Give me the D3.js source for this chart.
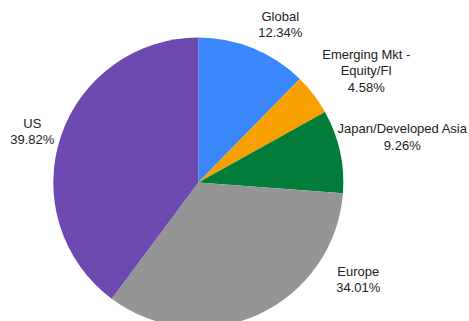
<!DOCTYPE html>
<html>
<head>
<meta charset="utf-8">
<script src="https://cdn.jsdelivr.net/npm/d3@7"></script>
<style>
  html, body { margin: 0; padding: 0; background: #fff; overflow: hidden; }
  svg { display: block; }
  text { font-family: "Liberation Sans", Arial, sans-serif; font-size: 13px; fill: #222; }
</style>
</head>
<body>
<script>
// Allocation by region (percent of portfolio)
const categories = ["Global", "Emerging Mkt -\nEquity/FI", "Japan/Developed Asia", "Europe", "US"];
const values = [12.34, 4.58, 9.26, 34.01, 39.82];
const colors = ["#3a87fe", "#f9a001", "#027c39", "#959595", "#6d4ab0"];

// Layout: label block anchor (centre of first line's baseline), relative to pie centre
const labelOffsets = [[82, -162], [168, -124], [204, -49.5], [160, 93], [-166, -55]];

const width = 469, height = 321;
const cx = 198.3, cy = 182.5, radius = 145;
const lineHeight = 16.5;

const svg = d3.select("body").append("svg")
  .attr("width", width)
  .attr("height", height);

const data = categories.map((c, i) => ({ name: c, value: values[i], color: colors[i], offset: labelOffsets[i] }));

const pie = d3.pie().sort(null).value(d => d.value);
const arc = d3.arc().innerRadius(0).outerRadius(radius);

const g = svg.append("g").attr("transform", `translate(${cx},${cy})`);

g.selectAll("path.slice")
  .data(pie(data))
  .join("path")
  .attr("class", "slice")
  .attr("d", arc)
  .attr("fill", d => d.data.color);

const labels = g.selectAll("text.label")
  .data(pie(data))
  .join("text")
  .attr("class", "label")
  .attr("text-anchor", "middle")
  .attr("x", d => d.data.offset[0])
  .attr("y", d => d.data.offset[1]);

labels.each(function(d) {
  const lines = d.data.name.split("\n").concat([d3.format(".2f")(d.data.value) + "%"]);
  d3.select(this).selectAll("tspan")
    .data(lines)
    .join("tspan")
    .attr("x", d.data.offset[0])
    .attr("dy", (l, i) => i === 0 ? 0 : lineHeight)
    .text(l => l);
});
</script>
</body>
</html>
